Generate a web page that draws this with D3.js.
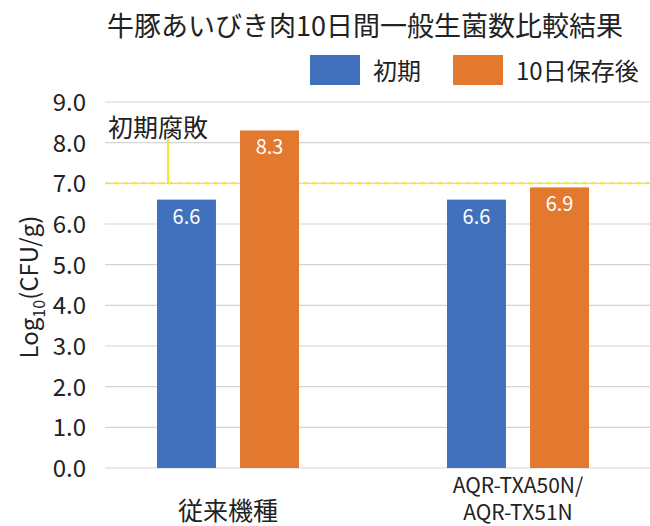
<!DOCTYPE html>
<html>
<head>
<meta charset="utf-8">
<script src="https://cdn.jsdelivr.net/npm/d3@7"></script>
<style>
  body { margin: 0; background: #fff; }
  text { font-family: "Noto Sans CJK JP", "Noto Sans", sans-serif; fill: #222; }
</style>
</head>
<body>
<div class="content"></div>
<script>
// Data
var categories = ["従来機種", "AQR-TXA50N/\nAQR-TX51N"];
var seriesNames = ["初期", "10日保存後"];
var initialValues = [6.6, 6.6];
var storedValues = [8.3, 6.9];
var yTicks = [0, 1, 2, 3, 4, 5, 6, 7, 8, 9];
var spoilLevel = 7.0;

var colors = ["#4170BC", "#E3782F"];

var svgWidth = 650;
var svgHeight = 526;

var margin = { top: 102, right: 0, bottom: 58, left: 105 };
var height = svgHeight - margin.top - margin.bottom;

var svg = d3.select(".content")
  .append("svg")
  .attr("width", svgWidth)
  .attr("height", svgHeight);

// title
svg.append("text")
  .attr("x", 365)
  .attr("y", 36)
  .attr("text-anchor", "middle")
  .style("font-size", "27px")
  .text("牛豚あいびき肉10日間一般生菌数比較結果");

// legend
var legend = svg.append("g");
var legendX = [310, 453];
seriesNames.forEach(function(name, i) {
  legend.append("rect")
    .attr("x", legendX[i])
    .attr("y", 55)
    .attr("width", 50)
    .attr("height", 30)
    .attr("fill", colors[i]);
  legend.append("text")
    .attr("x", legendX[i] + 63)
    .attr("y", 80)
    .style("font-size", "24px")
    .text(name);
});

var yScale = d3.scaleLinear()
  .domain([0, 9])
  .range([margin.top + height, margin.top]);

var x0 = d3.scaleBand()
  .domain(categories)
  .range([83, 663])
  .padding(0);

var x1 = d3.scaleBand()
  .domain(seriesNames)
  .range([0, 142])
  .paddingInner(0.29);

// gridlines
svg.append("g")
  .selectAll("line")
  .data(yTicks)
  .enter()
  .append("line")
  .attr("x1", margin.left)
  .attr("x2", svgWidth)
  .attr("y1", d => yScale(d))
  .attr("y2", d => yScale(d))
  .attr("stroke", "#d4d4d4")
  .attr("stroke-width", 1.2);

// y axis labels
var leftAxis = d3.axisLeft(yScale)
  .tickValues(yTicks)
  .tickFormat(d3.format(".1f"))
  .tickSize(0)
  .tickPadding(0);

var yAxis = svg.append("g")
  .attr("transform", "translate(86,0)")
  .call(leftAxis);
yAxis.select(".domain").remove();
yAxis.selectAll("text")
  .style("font-size", "24px")
  .attr("fill", "#222")
  .attr("dy", "0.36em");

// y axis title
var yTitle = svg.append("text")
  .attr("transform", "translate(38," + (margin.top + height / 2 + 2) + ") rotate(-90)")
  .attr("text-anchor", "middle")
  .style("font-size", "24px");
yTitle.append("tspan").text("Log");
yTitle.append("tspan").attr("dy", 7).style("font-size", "16px").text("10");
yTitle.append("tspan").attr("dy", -7).text("(CFU/g)");

// spoilage threshold
svg.append("line")
  .attr("x1", margin.left)
  .attr("x2", svgWidth)
  .attr("y1", yScale(spoilLevel))
  .attr("y2", yScale(spoilLevel))
  .attr("stroke", "#F2E633")
  .attr("stroke-width", 2)
  .attr("stroke-dasharray", "5,4");

svg.append("line")
  .attr("x1", 168)
  .attr("x2", 168)
  .attr("y1", yScale(spoilLevel))
  .attr("y2", yScale(8.0) - 4)
  .attr("stroke", "#F2E633")
  .attr("stroke-width", 2);

svg.append("text")
  .attr("x", 108)
  .attr("y", 137)
  .style("font-size", "25px")
  .text("初期腐敗");

// bars
var rows = categories.map(function(c, i) {
  return { category: c, values: [initialValues[i], storedValues[i]] };
});

var groups = svg.selectAll(".group")
  .data(rows)
  .enter()
  .append("g")
  .attr("class", "group")
  .attr("transform", d => `translate(${x0(d.category) + x0.bandwidth() / 2 - 71}, 0)`);

var bars = groups.selectAll("g.bar")
  .data(d => d.values.map((v, i) => ({ name: seriesNames[i], value: v, i: i })))
  .enter()
  .append("g")
  .attr("class", "bar");

bars.append("rect")
  .attr("x", d => x1(d.name))
  .attr("y", d => yScale(d.value))
  .attr("width", x1.bandwidth())
  .attr("height", d => yScale(0) - yScale(d.value))
  .attr("fill", d => colors[d.i]);

bars.append("text")
  .attr("x", d => x1(d.name) + x1.bandwidth() / 2)
  .attr("y", d => yScale(d.value) + 24)
  .attr("text-anchor", "middle")
  .style("font-size", "20px")
  .style("fill", "#fff")
  .text(d => d.value.toFixed(1));

// x labels, one text per line
categories.forEach(function(c) {
  var lines = c.split("\n");
  var cx = x0(c) + x0.bandwidth() / 2;
  lines.forEach(function(line, j) {
    svg.append("text")
      .attr("x", cx)
      .attr("y", 520 - (lines.length - 1 - j) * 27)
      .attr("text-anchor", "middle")
      .style("font-size", lines.length > 1 ? "21px" : "25px")
      .text(line);
  });
});
</script>
</body>
</html>
